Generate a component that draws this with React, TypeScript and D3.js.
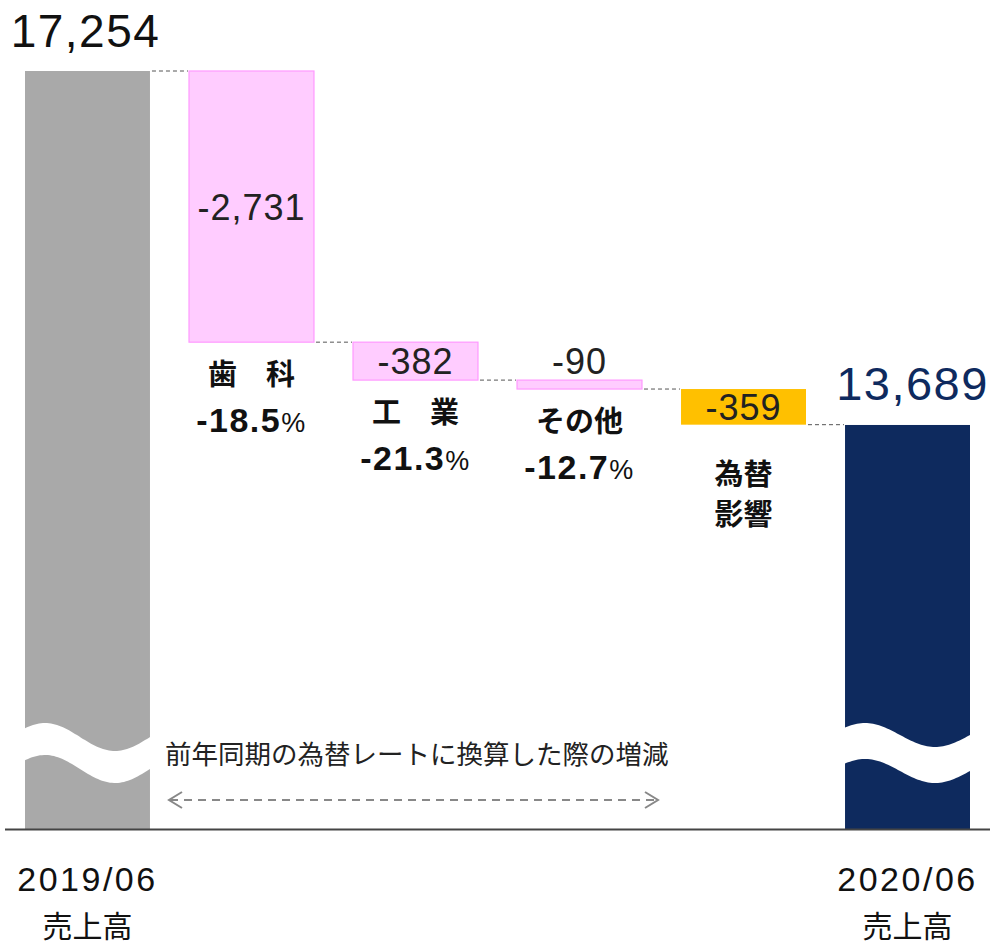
import React from "react";
import * as d3 from "d3";

const categories = ["2019/06", "歯科", "工業", "その他", "為替影響", "2020/06"];
const startValue = 17254;
const changes = [-2731, -382, -90, -359];
const endValue = 13689;
const valueLabels = ["17,254", "-2,731", "-382", "-90", "-359", "13,689"];
const segmentNames = [["歯　科"], ["工　業"], ["その他"], ["為替", "影響"]];
const segmentPcts = ["-18.5", "-21.3", "-12.7", null];
const bottomLabels = [["2019/06", "売上高"], ["2020/06", "売上高"]];
const annotation = "前年同期の為替レートに換算した際の増減";

const W = 994;
const H = 946;
const CJK = "'Noto Sans CJK JP', sans-serif";
const NUM = "'Liberation Sans', Arial, sans-serif";

export default function App() {
  const x = d3.scaleBand<string>().domain(categories).range([25, 970]).paddingInner(0.238).paddingOuter(0);
  const y = d3.scaleLinear().domain([9620, startValue]).range([829, 71]);
  const bw = x.bandwidth();

  const segs: { key: string; top: number; bottom: number; kind: string }[] = [];
  segs.push({ key: categories[0], top: startValue, bottom: 9620, kind: "start" });
  let run = startValue;
  changes.forEach((c, i) => {
    const next = run + c;
    segs.push({ key: categories[i + 1], top: run, bottom: next, kind: i === 3 ? "fx" : "seg" });
    run = next;
  });
  segs.push({ key: categories[5], top: endValue, bottom: 9620, kind: "end" });

  const fill = (k: string) =>
    k === "start" ? "#a9a9a9" : k === "end" ? "#0e2a5e" : k === "fx" ? "#ffc000" : "#ffccff";
  const stroke = (k: string) => (k === "seg" ? "#ff99ff" : "none");

  const wavePath = (x0: number, x1: number, c: number, amp: number, thick: number) => {
    const pts: [number, number][] = [];
    const f = (xx: number) => c - amp * Math.sin(((xx - x0 + 15) / 140) * 2 * Math.PI);
    for (let xx = x0 - 2; xx <= x1 + 2; xx += 2) pts.push([xx, f(xx)]);
    const back: [number, number][] = [];
    for (let xx = x1 + 2; xx >= x0 - 2; xx -= 2) back.push([xx, f(xx) + thick]);
    return (d3.line()(pts.concat(back)) || "") + "Z";
  };

  return (
    <svg width={W} height={H} style={{ display: "block", position: "absolute", left: 0, top: 0 }} fontFamily={CJK}>
      <rect width={W} height={H} fill="#fff" />
      {segs.slice(0, -1).map((s, i) => {
        const v = s.kind === "start" ? s.top : s.bottom;
        const yy = y(v);
        return (
          <line key={"c" + i} x1={(x(s.key) as number) + bw + 2} x2={(x(segs[i + 1].key) as number) - 1} y1={yy} y2={yy}
            stroke="#555" strokeWidth={1} strokeDasharray="4,3" />
        );
      })}
      {segs.map((s, i) => {
        const x0 = x(s.key) as number;
        const yt = y(Math.max(s.top, s.bottom));
        const yb = y(Math.min(s.top, s.bottom));
        return (
          <rect key={"b" + i} x={x0} y={yt} width={bw} height={Math.max(1, yb - yt)} fill={fill(s.kind)}
            stroke={stroke(s.kind)} strokeWidth={1.2} />
        );
      })}
      <path d={wavePath(x(categories[0]) as number, (x(categories[0]) as number) + bw, 737, 14, 32)} fill="#fff" />
      <path d={wavePath(x(categories[5]) as number, (x(categories[5]) as number) + bw, 735, 12, 36)} fill="#fff" />
      <line x1={5} x2={990} y1={829.5} y2={829.5} stroke="#444" strokeWidth={2} />
      <text x={(x(categories[0]) as number) + bw / 2 - 2} y={47} textAnchor="middle" fontSize={46} letterSpacing={1.5} fontFamily={NUM} fill="#111">{valueLabels[0]}</text>
      <text x={(x(categories[5]) as number) + bw / 2 + 5} y={400} textAnchor="middle" fontSize={47} letterSpacing={1.5} fontFamily={NUM} fill="#0e2a5e">{valueLabels[5]}</text>
      {segs.slice(1, 5).map((s, i) => {
        const cx = (x(s.key) as number) + bw / 2;
        const yt = y(s.top);
        const yb = y(s.bottom);
        const h2 = yb - yt;
        const ty = h2 > 30 ? (yt + yb) / 2 + 13 : h2 > 20 ? yb - 5 : yt - 6;
        return (
          <text key={"v" + i} x={cx} y={ty} textAnchor="middle" fontSize={36} letterSpacing={1} fontFamily={NUM} fill="#222">{valueLabels[i + 1]}</text>
        );
      })}
      {segs.slice(1, 5).map((s, i) => {
        const cx = (x(s.key) as number) + bw / 2;
        const yb = y(s.bottom);
        const base = yb + 43;
        return (
          <g key={"n" + i}>
            {segmentNames[i].map((t, j) => (
              <text key={j} x={cx} y={base + (i === 3 ? 17 : 0) + j * 40} textAnchor="middle" fontSize={29} fontWeight={700} fill="#111">{t}</text>
            ))}
            {segmentPcts[i] && (
              <text x={cx} y={base + 47} textAnchor="middle" fill="#111" fontFamily={NUM} letterSpacing={1.5}>
                <tspan fontSize={34} fontWeight={700}>{segmentPcts[i]}</tspan>
                <tspan fontSize={27}>%</tspan>
              </text>
            )}
          </g>
        );
      })}
      <text x={165} y={764} fontSize={26.5} fill="#222">{annotation}</text>
      <line x1={170} x2={656} y1={800} y2={800} stroke="#888" strokeWidth={2} strokeDasharray="8,6" />
      <path d="M182,792 L169,800 L182,808" fill="none" stroke="#888" strokeWidth={2} />
      <path d="M645,792 L658,800 L645,808" fill="none" stroke="#888" strokeWidth={2} />
      {[categories[0], categories[5]].map((k, i) => {
        const cx = (x(k) as number) + bw / 2;
        return (
          <g key={"bl" + i}>
            <text x={cx} y={891} textAnchor="middle" fontSize={34} letterSpacing={2.5} fontFamily={NUM} fill="#111">{bottomLabels[i][0]}</text>
            <text x={cx} y={937} textAnchor="middle" fontSize={30} fill="#111">{bottomLabels[i][1]}</text>
          </g>
        );
      })}
    </svg>
  );
}
